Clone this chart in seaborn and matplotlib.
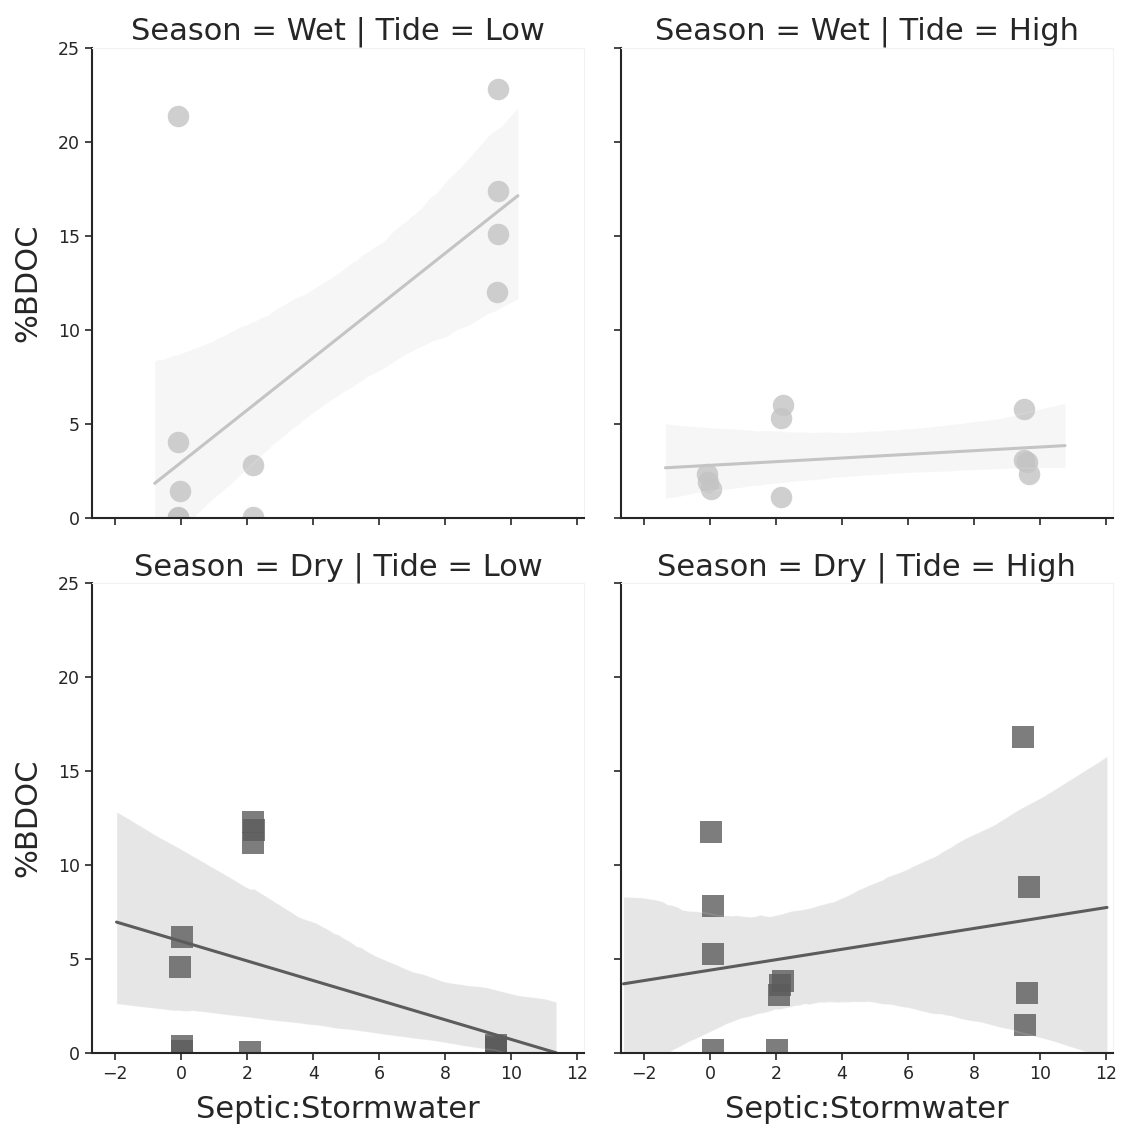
import matplotlib
matplotlib.use("Agg")
import matplotlib.pyplot as plt
import seaborn as sns
import pandas as pd

# ---- data (x positions as plotted) ----
wet_low_x = [-0.08, 9.61, 9.61, 9.61, 9.56, -0.08, -0.02, -0.08, -0.08, -0.08, -0.08, 2.17, 2.17]
wet_low_y = [21.4, 22.8, 17.4, 15.1, 12.0, 4.0, 1.4, 0.05, 0.0, 0.0, 0.0, 2.8, 0.05]

wet_high_x = [2.21, 2.15, 2.15, -0.10, -0.05, 0.03, 9.52, 9.50, 9.60, 9.65]
wet_high_y = [6.0, 5.3, 1.1, 2.3, 1.9, 1.5, 5.8, 3.05, 2.95, 2.3]

dry_low_x = [2.17, 2.21, 2.17, 0.04, -0.02, 0.04, 0.04, 2.10, 9.55, 9.55, 9.55, 9.55, 9.55]
dry_low_y = [12.3, 11.85, 11.2, 6.2, 4.6, 0.4, 0.1, 0.05, 0.45, 0.3, 0.2, 0.1, 0.05]

dry_high_x = [9.48, 0.03, 0.08, 0.08, 9.66, 2.21, 2.13, 2.10, 9.60, 9.54, 0.08, 2.03]
dry_high_y = [16.8, 11.75, 7.8, 5.25, 8.85, 3.85, 3.6, 3.1, 3.2, 1.5, 0.15, 0.15]

seasons = ["Wet", "Dry"]
tides = ["Low", "High"]
colors = {"Wet": "#c4c4c4", "Dry": "#5c5c5c"}
markers = {"Wet": "o", "Dry": "s"}
x_ticks = [-2, 0, 2, 4, 6, 8, 10, 12]
y_ticks = [0, 5, 10, 15, 20, 25]

frames = []
for season, tide, xs, ys in [
    ("Wet", "Low", wet_low_x, wet_low_y),
    ("Wet", "High", wet_high_x, wet_high_y),
    ("Dry", "Low", dry_low_x, dry_low_y),
    ("Dry", "High", dry_high_x, dry_high_y),
]:
    frames.append(pd.DataFrame({"Septic:Stormwater": xs, "%BDOC": ys,
                                "Season": season, "Tide": tide}))
df = pd.concat(frames, ignore_index=True)

sns.set_style("ticks")
plt.rcParams["font.family"] = ["DejaVu Sans"]
plt.rcParams["axes.titlesize"] = 22
plt.rcParams["axes.labelsize"] = 22
plt.rcParams["xtick.labelsize"] = 12.5
plt.rcParams["ytick.labelsize"] = 12.5
plt.rcParams["xtick.major.size"] = 5
plt.rcParams["ytick.major.size"] = 5

g = sns.FacetGrid(df, row="Season", col="Tide", row_order=seasons,
                  col_order=tides, height=4.7, aspect=1.05,
                  sharex=True, sharey=True)

# Old-style lmplot (truncate=False): each fit spans the shared x-limits as
# they stood when it was drawn, and the limits grow by the axes margin.
lo, hi = -0.8, 10.2
for season in seasons:
    for tide in tides:
        ax = g.axes_dict[(season, tide)]
        sub = df[(df["Season"] == season) & (df["Tide"] == tide)]
        ax.set_xlim(lo, hi)
        sns.regplot(data=sub, x="Septic:Stormwater", y="%BDOC", ax=ax,
                    color=colors[season], marker=markers[season],
                    truncate=False, seed=3,
                    scatter_kws={"s": 240, "alpha": 0.8, "linewidths": 0},
                    line_kws={"linewidth": 2.2})
        pad = 0.05 * (hi - lo)
        lo, hi = lo - pad, hi + pad

g.set(xlim=(-2.7, 12.2), ylim=(0, 25), xticks=x_ticks, yticks=y_ticks)
g.set_titles("{row_var} = {row_name} | {col_var} = {col_name}")
g.set_axis_labels("Septic:Stormwater", "%BDOC")

for ax in g.axes.flat:
    ax.xaxis.labelpad = 9
    ax.yaxis.labelpad = 11
    ax.spines["top"].set_visible(True)
    ax.spines["right"].set_visible(True)
    ax.spines["top"].set_color("#f2f2f2")
    ax.spines["right"].set_color("#f2f2f2")
    ax.spines["top"].set_linewidth(0.8)
    ax.spines["right"].set_linewidth(0.8)
    ax.spines["left"].set_linewidth(1.5)
    ax.spines["bottom"].set_linewidth(1.5)
    ax.tick_params(width=1.2)

fig = g.figure
fig.set_size_inches(11.31, 11.29)
fig.subplots_adjust(left=0.0813, right=0.984, top=0.9575, bottom=0.0673,
                    wspace=0.075, hspace=0.14)
fig.savefig("out.png", dpi=100)
